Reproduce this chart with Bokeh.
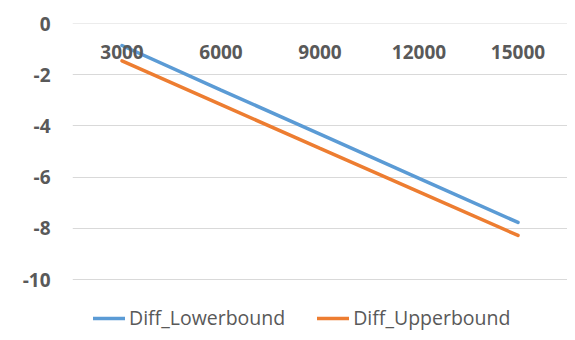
from bokeh.plotting import figure
from bokeh.models import FactorRange, Range1d, Legend, LegendItem, FixedTicker, CustomJSTickFormatter
from bokeh.embed import file_html
from bokeh.resources import INLINE

categories = ["3000", "6000", "9000", "12000", "15000"]
diff_lower = [-0.86, -2.6, -4.32, -6.05, -7.77]
diff_upper = [-1.46, -3.17, -4.88, -6.58, -8.28]
y_ticks = [-10, -8, -6, -4, -2, 0]

TEXT = "#595959"
GRID = "#d9d9d9"

p = figure(x_range=FactorRange(factors=categories, range_padding=0),
           y_range=Range1d(-12.07, 0),
           width=567, height=332,
           output_backend="svg", toolbar_location=None,
           min_border_left=72, min_border_right=0,
           min_border_top=23, min_border_bottom=0)
p.outline_line_color = None
p.background_fill_color = "white"
p.border_fill_color = "white"

r1 = p.line(categories, diff_lower, line_color="#5B9BD5", line_width=3.5, line_cap="round")
r2 = p.line(categories, diff_upper, line_color="#ED7D31", line_width=3.5, line_cap="round")

p.xgrid.grid_line_color = None
p.ygrid.grid_line_color = GRID
p.ygrid.grid_line_width = 1

p.yaxis.ticker = FixedTicker(ticks=y_ticks)
p.yaxis.formatter = CustomJSTickFormatter(code="return String(tick)")
p.yaxis.axis_line_color = None
p.yaxis.major_tick_line_color = None
p.yaxis.minor_tick_line_color = None
p.yaxis.major_label_standoff = 16
p.yaxis.major_label_text_font = "Open Sans"
p.yaxis.major_label_text_font_style = "bold"
p.yaxis.major_label_text_font_size = "19px"
p.yaxis.major_label_text_color = TEXT

p.xaxis.fixed_location = 0
p.xaxis.axis_line_color = GRID
p.xaxis.major_tick_line_color = None
p.xaxis.minor_tick_line_color = None
p.xaxis.major_label_standoff = 15
p.xaxis.major_label_text_font = "Open Sans"
p.xaxis.major_label_text_font_style = "bold"
p.xaxis.major_label_text_font_size = "19px"
p.xaxis.major_label_text_color = TEXT

legend = Legend(items=[LegendItem(label="Diff_Lowerbound", renderers=[r1]),
                       LegendItem(label="Diff_Upperbound", renderers=[r2])],
                orientation="horizontal", location=(21, 1),
                padding=0, margin=0, spacing=32,
                glyph_width=32, glyph_height=20, label_standoff=4,
                label_text_font="Open Sans", label_text_font_size="19.5px",
                label_text_color=TEXT,
                border_line_color=None, background_fill_alpha=0)
p.add_layout(legend, "center")

open("out.html", "w").write(file_html(p, INLINE))
